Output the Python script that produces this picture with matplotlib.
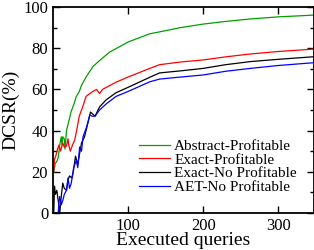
import matplotlib
matplotlib.use("Agg")
import matplotlib.pyplot as plt
from matplotlib.ticker import MultipleLocator

# executed queries vs DCSR (%)
abs_x = [1, 3, 5, 7, 9, 11, 12, 13, 15, 16, 18, 20, 24, 28, 31, 35, 38, 44, 53, 62, 75, 100, 129, 143, 170, 200, 230, 263, 300, 349]
abs_y = [20, 24, 25, 27, 33, 37, 33, 37, 36, 31, 40, 43, 49, 53, 56.5, 59, 62, 66, 71, 74, 78, 83, 87, 88, 90, 91.7, 93, 94.2, 95.2, 96.1]

ex_x = [1, 2, 4, 6, 8, 10, 13, 15, 18, 20, 21, 23, 26, 29, 32, 35, 40, 44, 53, 58, 62, 66, 71, 84, 100, 129, 142, 170, 200, 230, 263, 300, 349]
ex_y = [20, 26, 28, 31, 33, 30, 34, 32, 32.5, 36, 33, 30, 33, 35.5, 41, 47, 52, 56.6, 59, 60, 58, 60, 61, 63.5, 66, 70.2, 72, 73.3, 74.3, 75.8, 77.2, 78.4, 79.6]

exn_x = [1, 2, 3, 5, 7, 9, 11, 13, 15, 18, 20, 22, 25, 27, 30, 33, 36, 38, 42, 47, 50, 53, 56, 62, 71, 84, 100, 129, 142, 170, 200, 230, 263, 300, 349]
exn_y = [0, 13, 9, 11, 6, 0, 8, 14.5, 12, 11, 16, 18, 17, 20, 27.6, 23.6, 30, 34, 37, 44.5, 49, 48, 47, 51.5, 55, 58.4, 61, 65.9, 68, 69, 70.2, 72, 73.5, 74.6, 75.9]

aet_x = [7, 8, 9, 11, 13, 15, 18, 20, 22, 24, 26, 27.5, 31, 33, 35.5, 38, 40, 45, 49, 52, 56, 62, 71, 84, 100, 129, 142, 170, 200, 230, 263, 300, 349]
aet_y = [0.3, 5, 8, 4, 6, 9, 11, 17, 12, 14, 18, 22, 25.5, 22, 32, 30, 37, 42, 47.6, 47, 47, 50, 53, 56.6, 59, 63.7, 65, 66, 67, 68.8, 70.2, 71.6, 73]

names = ["Abstract-Profitable", "Exact-Profitable", "Exact-No Profitable", "AET-No Profitable"]
colors = ["#00a000", "#ff0000", "#000000", "#0000ff"]
xticks = [100, 200, 300]

plt.rcParams['font.family'] = ['Liberation Serif', 'DejaVu Serif']

fig = plt.figure(figsize=(3.14, 2.5), dpi=100)
ax = fig.add_axes([53 / 314, 37 / 250, 260.5 / 314, 206 / 250])

for (xs, ys), name, c in zip([(abs_x, abs_y), (ex_x, ex_y), (exn_x, exn_y), (aet_x, aet_y)], names, colors):
    ax.plot(xs, ys, color=c, lw=0.9, label=name)

ax.set_xlim(0, 347)
ax.set_ylim(0, 100)
ax.set_xticks(xticks)
ax.yaxis.set_major_locator(MultipleLocator(20))
ax.yaxis.set_minor_locator(MultipleLocator(10))
ax.tick_params(which='both', direction='in', top=True, right=True, labelsize=12, width=1)
ax.tick_params(which='major', length=5)
ax.tick_params(which='minor', length=3)
for s in ax.spines.values():
    s.set_linewidth(1.3)

ax.set_xlabel("Executed queries", fontsize=14, labelpad=-1)
ax.set_ylabel("DCSR(%)", fontsize=14, labelpad=3)

ax.legend(loc='lower right', bbox_to_anchor=(0.965, 0.055), frameon=False, fontsize=11,
          handlelength=2.0, handletextpad=0.3, labelspacing=0.0, borderpad=0)

fig.savefig("out.png", dpi=100)
